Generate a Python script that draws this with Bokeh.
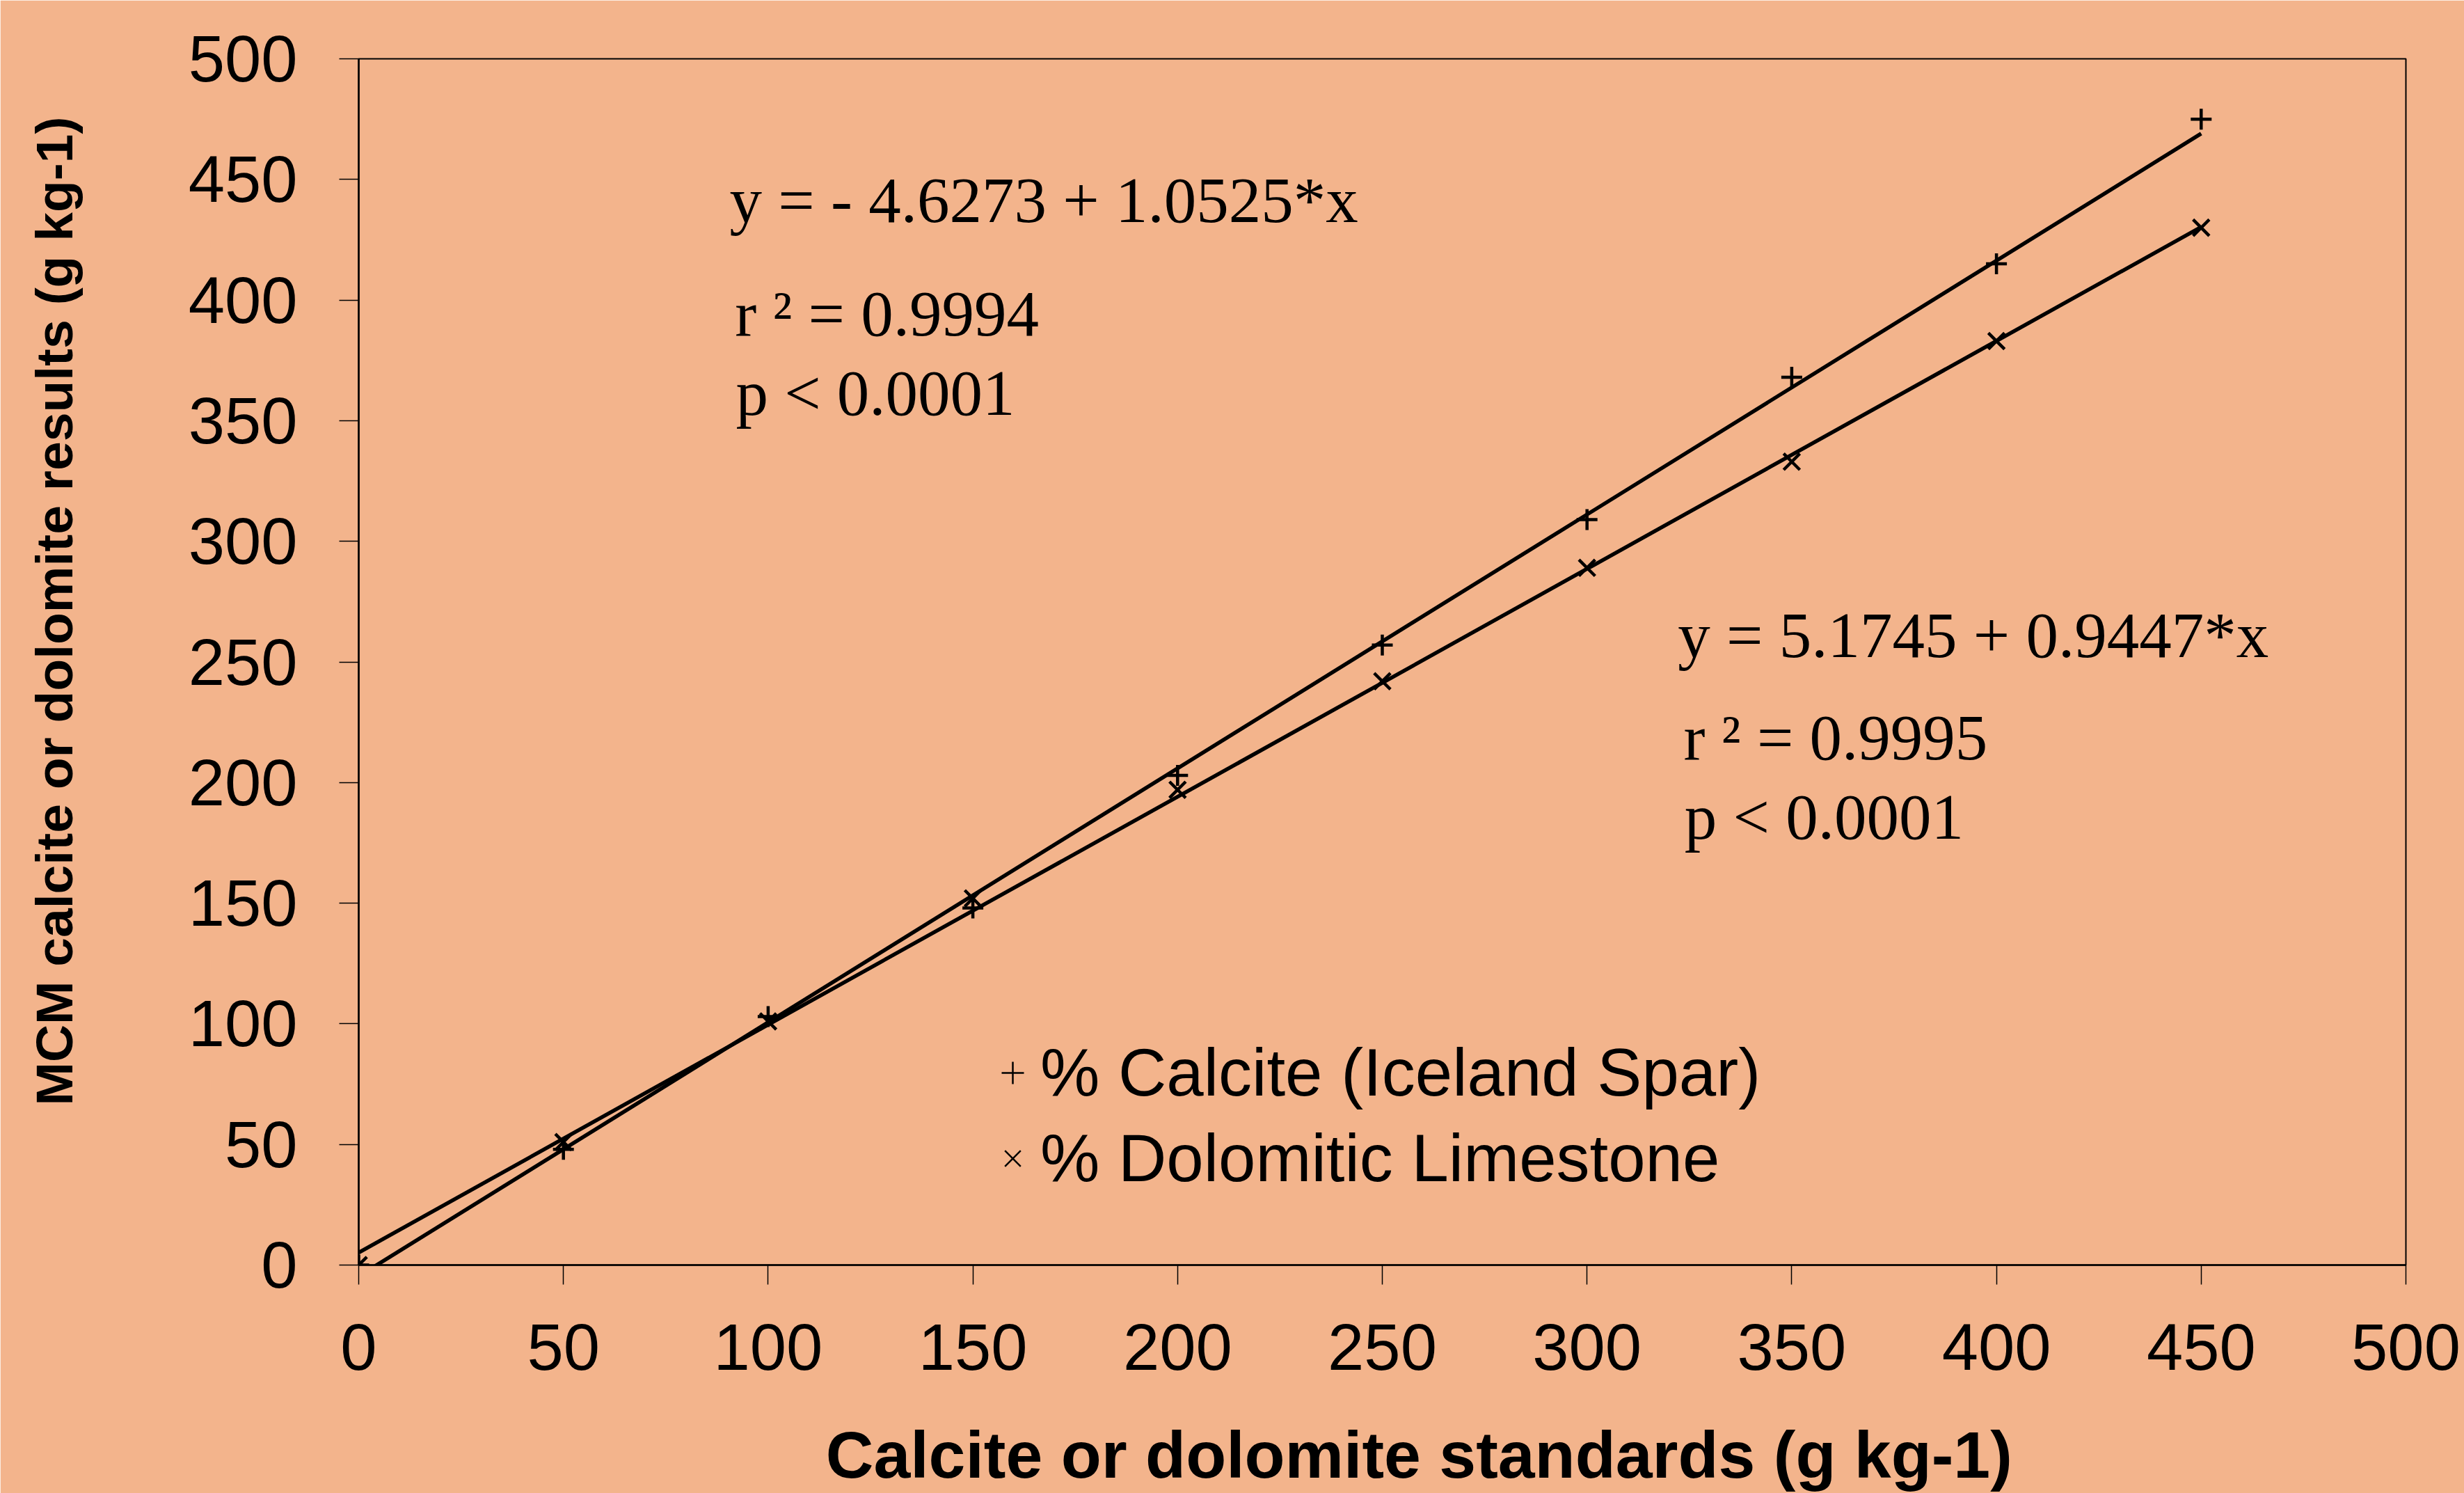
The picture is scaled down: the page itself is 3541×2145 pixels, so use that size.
from bokeh.plotting import figure
from bokeh.models import Range1d, FixedTicker, Label, Legend, LegendItem
from bokeh.embed import file_html
from bokeh.resources import INLINE

# ---------------- data ----------------
standards = [0, 50, 100, 150, 200, 250, 300, 350, 400, 450]
calcite = [0, 48, 103, 148, 203, 257, 309, 368, 415, 475]
dolomite = [0, 51, 101, 152, 197, 242, 289, 333, 383, 430]

calcite_fit = (-4.6273, 1.0525)   # intercept, slope
dolomite_fit = (5.1745, 0.9447)

x_ticks = [0, 50, 100, 150, 200, 250, 300, 350, 400, 450, 500]
y_ticks = [0, 50, 100, 150, 200, 250, 300, 350, 400, 450, 500]

calcite_label = "% Calcite (Iceland Spar)"
dolomite_label = "% Dolomitic Limestone"
x_title = "Calcite or dolomite standards (g kg-1)"
y_title = "MCM calcite or dolomite results  (g kg-1)"

eq1 = ["y = - 4.6273 + 1.0525*x", "r \u00b2 = 0.9994", "p < 0.0001"]
eq2 = ["y = 5.1745 + 0.9447*x", "r \u00b2 = 0.9995", "p < 0.0001"]

# ---------------- style ----------------
BG = "#F3B48C"
W, H = 3541, 2145
NB = "\u00a0"  # padding so the centred titles sit off-centre like the original

p = figure(width=W, height=H, x_range=Range1d(0, 500), y_range=Range1d(0, 500),
           output_backend="svg", toolbar_location=None,
           min_border_left=515, min_border_right=W - 3457, min_border_top=84,
           min_border_bottom=H - 1821)

p.background_fill_color = BG
p.border_fill_color = BG
p.outline_line_color = "black"
p.outline_line_width = 2
p.xgrid.visible = False
p.ygrid.visible = False

for ax, ticks in ((p.xaxis, x_ticks), (p.yaxis, y_ticks)):
    ax.ticker = FixedTicker(ticks=ticks)
    ax.axis_line_color = "black"
    ax.axis_line_width = 2.5
    ax.major_tick_line_color = "black"
    ax.major_tick_line_width = 1.5
    ax.major_tick_out = 28
    ax.major_tick_in = 0
    ax.minor_tick_out = 0
    ax.minor_tick_in = 0
    ax.major_label_text_font = "Liberation Sans"
    ax.major_label_text_font_size = "94px"
    ax.major_label_text_color = "black"
    ax.axis_label_text_font = "Liberation Sans"
    ax.axis_label_text_font_style = "bold"
    ax.axis_label_text_color = "black"

p.xaxis.major_label_standoff = 57
p.xaxis.axis_label = NB * 4 + x_title
p.xaxis.axis_label_text_font_size = "95px"
p.xaxis.axis_label_standoff = 66

p.yaxis.major_label_standoff = 60
p.yaxis.axis_label = NB * 8 + y_title
p.yaxis.axis_label_text_font_size = "75px"
p.yaxis.axis_label_standoff = 148

# regression lines (from fit coefficients, over the data range)
xf = [min(standards), max(standards)]
p.line(xf, [calcite_fit[0] + calcite_fit[1] * v for v in xf], line_color="black", line_width=5.5)
p.line(xf, [dolomite_fit[0] + dolomite_fit[1] * v for v in xf], line_color="black", line_width=5.5)

# data points
p.scatter(standards, calcite, marker="cross", size=30, line_color="black", line_width=4.5)
p.scatter(standards, dolomite, marker="x", size=33, line_color="black", line_width=4.5)

# legend-only renderers (hidden under the origin markers)
lc = p.scatter(standards[:1], calcite[:1], marker="cross", size=10, line_color="black", line_width=2.5)
ld = p.scatter(standards[:1], dolomite[:1], marker="x", size=10, line_color="black", line_width=2.5)

legend = Legend(items=[LegendItem(label=calcite_label, renderers=[lc]),
                       LegendItem(label=dolomite_label, renderers=[ld])],
                location=(900, 98), orientation="vertical",
                glyph_width=80, glyph_height=80, label_standoff=0,
                spacing=13, padding=0, margin=0,
                background_fill_alpha=0, border_line_alpha=0,
                label_text_font="Liberation Sans", label_text_font_size="96px",
                label_text_color="black")
p.add_layout(legend)

# equation annotations
eq_font = "Liberation Serif"
eq_size = "93px"
eq1_pos = [(90.6, 441.5), (91.9, 394.5), (92.1, 361.5)]
eq2_pos = [(322.2, 261.0), (323.6, 218.8), (323.8, 185.8)]
for texts, poss in ((eq1, eq1_pos), (eq2, eq2_pos)):
    for t, (x, y) in zip(texts, poss):
        p.add_layout(Label(x=x, y=y, text=t, text_font=eq_font, text_font_size=eq_size,
                           text_color="black", text_baseline="alphabetic", text_align="left"))

open("out.html", "w").write(file_html(p, INLINE))
